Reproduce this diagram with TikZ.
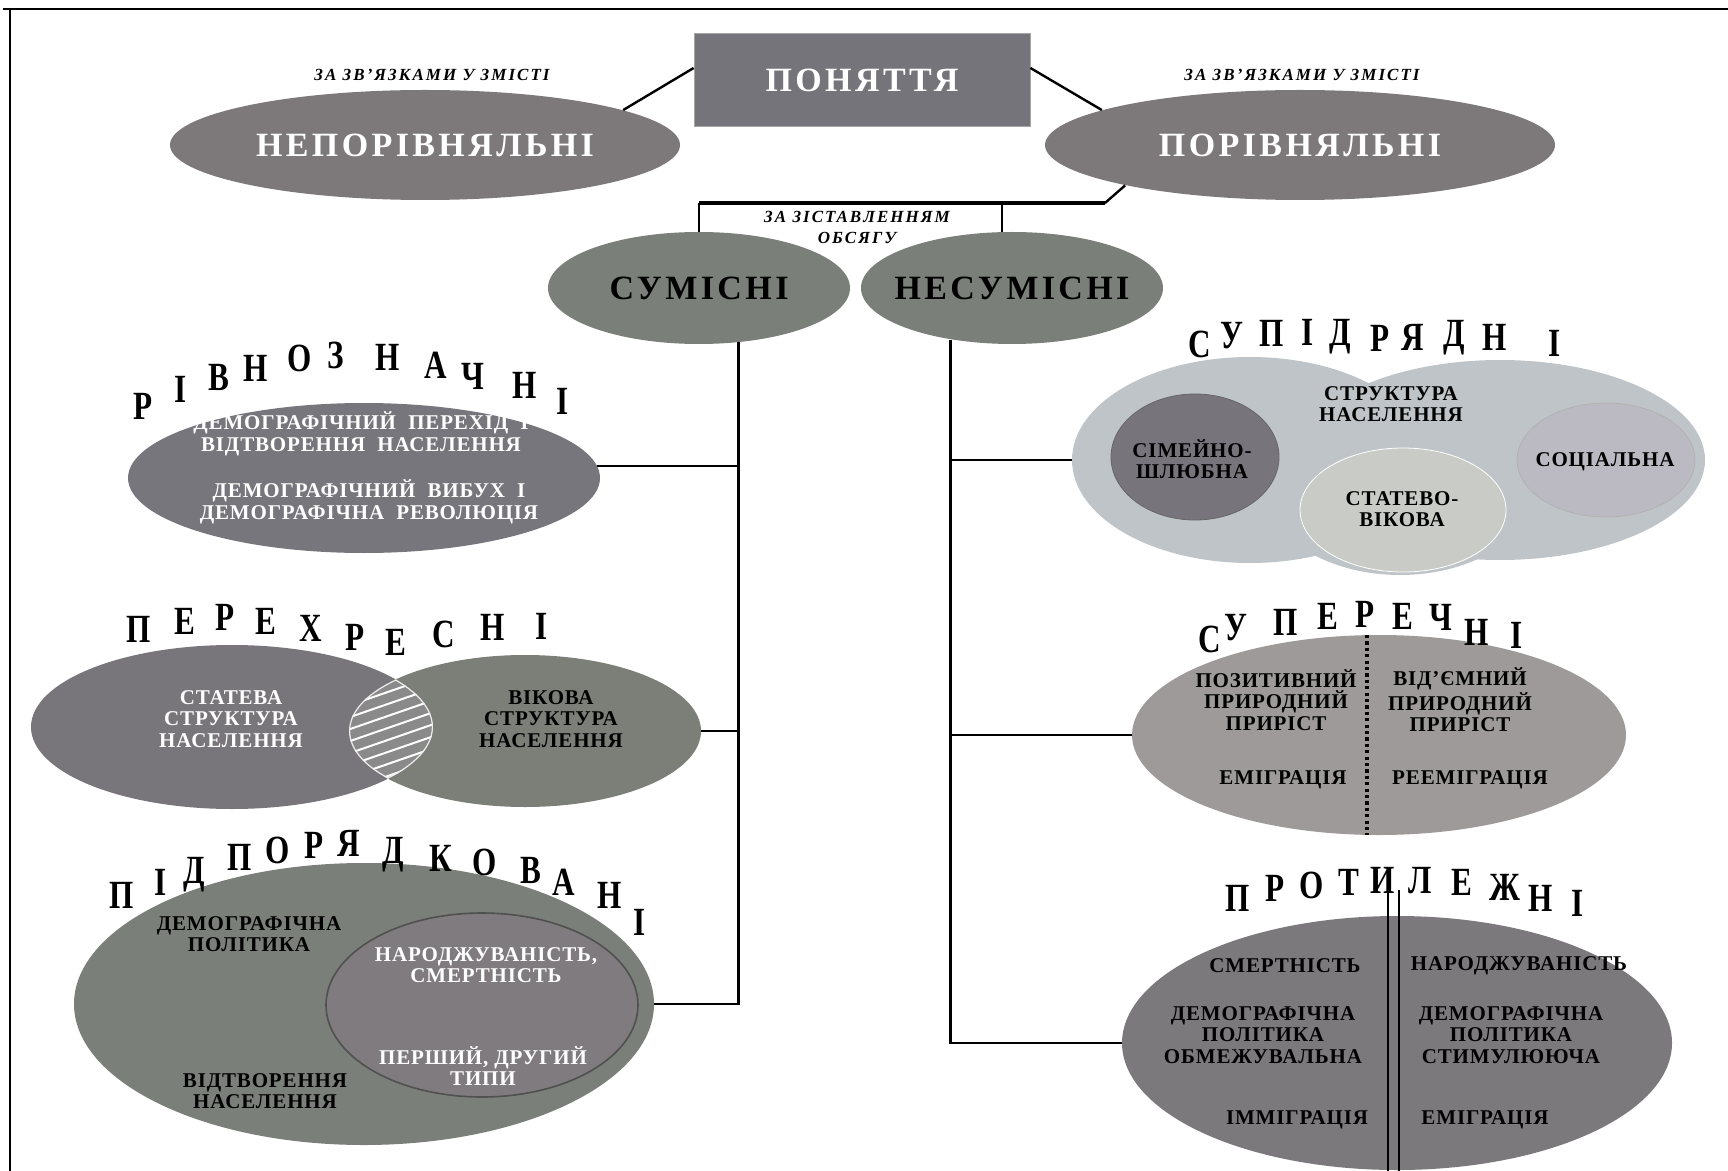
\documentclass[tikz,border=0pt]{standalone}
\usepackage{fontspec}
\setmainfont{Liberation Serif}
\newfontfamily\titlefont{Liberation Serif}[LetterSpace=10]
\newfontfamily\bodyfont{Liberation Serif}[LetterSpace=4]
\newfontfamily\notefont{Liberation Serif}[LetterSpace=12]
\usepackage{graphicx}
\usepackage{tikz}
\usetikzlibrary{shapes.geometric,calc}

\definecolor{boxgray}{HTML}{76747B}
\definecolor{topoval}{HTML}{7D7879}
\definecolor{greenoval}{HTML}{7A7F79}
\definecolor{blueoval}{HTML}{77767D}
\definecolor{venleft}{HTML}{78757B}
\definecolor{venright}{HTML}{7C7E78}
\definecolor{lensgray}{HTML}{8A8A8A}
\definecolor{inneroval}{HTML}{807B7E}
\definecolor{innerline}{HTML}{505050}
\definecolor{cloudgray}{HTML}{BEC4C7}
\definecolor{simgray}{HTML}{78747B}
\definecolor{statgray}{HTML}{C9CCC6}
\definecolor{sotsgray}{HTML}{BBBAC2}
\definecolor{contrgray}{HTML}{9E9A9A}
\definecolor{opgray}{HTML}{7C797D}

\newcommand{\archletter}[1]{\scalebox{0.78}[1]{#1}}

\begin{document}
\begin{tikzpicture}[x=0.5pt,y=0.5pt,
  oval/.style={ellipse,inner sep=0pt},
  title/.style={font=\titlefont\bfseries\fontsize{17}{20}\selectfont},
  body/.style={font=\bodyfont\bfseries\fontsize{10.5}{10.8}\selectfont,align=center,inner sep=0pt},
  note/.style={font=\notefont\bfseries\itshape\fontsize{8.5}{10.5}\selectfont,align=center,inner sep=0pt},
  letter/.style={font=\bfseries\fontsize{20}{20}\selectfont,inner sep=0pt,text height=13.2pt,text depth=0pt},
  link/.style={line width=1.2pt}]
\useasboundingbox (0,0) rectangle (1728,-1171);
% frame
\draw[line width=1pt] (3,-9) -- (1728,-9);
\draw[line width=1pt] (10,-9) -- (10,-1171);

% top level
\node[title,fill=boxgray,draw=gray!70,text=white,minimum width=168pt,minimum height=46.5pt] (ponyattya) at (862,-80) {ПОНЯТТЯ};
\node[oval,fill=topoval,minimum width=255pt,minimum height=55pt,label={[title,text=white]center:НЕПОРІВНЯЛЬНІ}] (neporiv) at (425,-145) {};
\node[oval,fill=topoval,minimum width=255pt,minimum height=55pt,label={[title,text=white]center:ПОРІВНЯЛЬНІ}] (poriv) at (1300,-145) {};
\node[note] (zvleft) at (432,-75) {ЗА ЗВ’ЯЗКАМИ У ЗМІСТІ};
\node[note] (zvright) at (1302,-75) {ЗА ЗВ’ЯЗКАМИ У ЗМІСТІ};
\draw[link] ([yshift=6pt]ponyattya.west) -- (neporiv.10);
\draw[link] ([yshift=6pt]ponyattya.east) -- (poriv.170);

% second level
\node[oval,fill=greenoval,minimum width=151pt,minimum height=56pt,label={[title]center:СУМІСНІ}] (sumisni) at (699,-288) {};
\node[oval,fill=greenoval,minimum width=151pt,minimum height=56pt,label={[title]center:НЕСУМІСНІ}] (nesumisni) at (1012,-288) {};
\node[note] (zist) at (857,-227) {ЗА ЗІСТАВЛЕННЯМ\\ОБСЯГУ};
\coordinate (split) at (1105,-203);
\draw[link] (poriv.193) -- (split);
\draw[line width=2pt] (split) -- (split -| sumisni.north);
\draw[link] (split -| sumisni.north) -- (sumisni.north);
\draw[link] (split -| nesumisni.100) -- (nesumisni.100);

% rivnoznachni
\node[oval,fill=blueoval,minimum width=236pt,minimum height=75pt] (rivnoz) at (364,-478) {};
\node[body,text=white] (rivtext1) at (361,-434) {ДЕМОГРАФІЧНИЙ\ \ ПЕРЕХІД\ \ І\\ВІДТВОРЕННЯ\ \ НАСЕЛЕННЯ};
\node[body,text=white] (rivtext2) at (369,-502) {ДЕМОГРАФІЧНИЙ\ \ ВИБУХ\ \ І\\ДЕМОГРАФІЧНА\ \ РЕВОЛЮЦІЯ};
\foreach \ch/\x/\y [count=\i] in {Р/143/406, І/181/389, В/219/377, Н/256/368, О/300/358, З/336/355,
  Н/388/357, А/436/365, Ч/473/376, Н/525/385, І/563/401}
  \node[letter] (rivl\i) at (\x,-\y) {\archletter{\ch}};

% perekhresni
\node[oval,fill=venleft,minimum width=201pt,minimum height=82pt] (stateva) at (232,-727) {};
\node[oval,fill=venright,minimum width=176pt,minimum height=76pt] (vikova) at (525,-731) {};
\begin{scope}
\clip (232,-727) ellipse (100.5pt and 41pt);
\clip (525,-731) ellipse (88pt and 38pt);
\fill[lensgray] (300,-600) rectangle (500,-860);
\foreach \k in {0,...,17}
  \draw[white,line width=1pt] (330,-640-\k*12) -- (460,-595-\k*12);
\draw[white!85!gray,line width=1.2pt] (525,-731) ellipse (88pt and 38pt);
\draw[white!85!gray,line width=1.2pt] (232,-727) ellipse (100.5pt and 41pt);
\end{scope}
\node[body,text=white] (statevat) at (231,-719) {СТАТЕВА\\СТРУКТУРА\\НАСЕЛЕННЯ};
\node[body] (vikovat) at (551,-719) {ВІКОВА\\СТРУКТУРА\\НАСЕЛЕННЯ};
\foreach \ch/\x/\y [count=\i] in {П/139/629, Е/185/621, Р/225/617, Е/266/621, Х/311/628,
  Р/355/637, Е/396/642, С/444/634, Н/493/627, І/542/626}
  \node[letter] (perl\i) at (\x,-\y) {\archletter{\ch}};

% pidporyadkovani
\node[oval,fill=greenoval,minimum width=290pt,minimum height=141pt] (pidpor) at (364,-1004) {};
\node[oval,fill=inneroval,draw=innerline,line width=0.8pt,minimum width=156pt,minimum height=92pt] (pidporin) at (482,-1005) {};
\node[body] (polit) at (249,-934) {ДЕМОГРАФІЧНА\\ПОЛІТИКА};
\node[body] (vidtv) at (265,-1091) {ВІДТВОРЕННЯ\\НАСЕЛЕННЯ};
\node[body,text=white] (narodzh) at (486,-965) {НАРОДЖУВАНІСТЬ,\\СМЕРТНІСТЬ};
\node[body,text=white] (typy) at (483,-1066) {ПЕРШИЙ, ДРУГИЙ\\ТИПИ};
\foreach \ch/\x/\y [count=\i] in {П/122/895, І/161/882, Д/194/870, П/240/857, О/278/850, Р/314/845,
  Я/349/843, Д/393/850, К/441/858, О/485/862, В/531/870, А/564/882, Н/610/895, І/640/922}
  \node[letter] (pidl\i) at (\x,-\y) {\archletter{\ch}};

% left trunk
\draw[link] (sumisni.-54) |- (pidpor.east);
\draw[link] (rivnoz.3) -- (rivnoz.3 -| sumisni.-54);
\draw[link] (vikova.east) -- (vikova.east -| sumisni.-54);

% supidryadni
\node[oval,fill=cloudgray,minimum width=178pt,minimum height=103pt] (supidr) at (1250,-460) {};
\node[oval,fill=cloudgray,minimum width=205pt,minimum height=100pt] (supidrR) at (1500,-460) {};
\node[oval,fill=cloudgray,minimum width=140pt,minimum height=95pt] (supidrB) at (1400,-480) {};
\node[oval,fill=simgray,draw=gray!80!black,minimum width=84pt,minimum height=63pt] (simeyno) at (1195,-457) {};
\node[oval,fill=statgray,draw=white,minimum width=103pt,minimum height=62pt] (statevo) at (1403,-510) {};
\node[oval,fill=sotsgray,draw=gray!60,minimum width=89pt,minimum height=57pt] (sotsial) at (1606,-460) {};
\node[body] (struktura) at (1391,-404) {СТРУКТУРА\\НАСЕЛЕННЯ};
\node[body] (simeynot) at (1192,-459) {СІМЕЙНО-\\ШЛЮБНА};
\node[body] (statevot) at (1402,-509) {СТАТЕВО-\\ВІКОВА};
\node[body] (sotsialt) at (1605,-462) {СОЦІАЛЬНА};
\foreach \ch/\x/\y [count=\i] in {С/1200/344, У/1232/335, П/1272/333, І/1308/332, Д/1340/332,
  Р/1380/338, Я/1413/337, Д/1454/333, Н/1495/337, І/1555/343}
  \node[letter] (supl\i) at (\x,-\y) {\archletter{\ch}};

% superechni
\node[oval,fill=contrgray,minimum width=247pt,minimum height=100pt] (supere) at (1379,-735) {};
\draw[line width=1.6pt,dash pattern=on 1.6pt off 1.6pt] (1367,-635) -- (1367,-835);
\node[body] (pozyt) at (1276,-700) {ПОЗИТИВНИЙ\\ПРИРОДНИЙ\\ПРИРІСТ};
\node[body] (vidyem) at (1460,-700) {ВІД’ЄМНИЙ\\ПРИРОДНИЙ\\ПРИРІСТ};
\node[body] (emigr) at (1283,-780) {ЕМІГРАЦІЯ};
\node[body] (reemigr) at (1470,-780) {РЕЕМІГРАЦІЯ};
\foreach \ch/\x/\y [count=\i] in {С/1210/639, У/1236/627, П/1286/622, Е/1328/616, Р/1365/614,
  Е/1403/616, Ч/1441/617, Н/1477/632, І/1517/635}
  \node[letter] (supel\i) at (\x,-\y) {\archletter{\ch}};

% protylezhni
\node[oval,fill=opgray,minimum width=275pt,minimum height=127pt] (protyl) at (1397,-1043) {};
\draw[line width=0.8pt] (1388,-890) -- (1388,-1171);
\draw[line width=0.8pt] (1399,-890) -- (1399,-1171);
\node[body] (smert) at (1285,-966) {СМЕРТНІСТЬ};
\node[body] (narod) at (1519,-966) {НАРОДЖУВАНІСТЬ};
\node[body] (obmezh) at (1263,-1035) {ДЕМОГРАФІЧНА\\ПОЛІТИКА\\ОБМЕЖУВАЛЬНА};
\node[body] (stymul) at (1511,-1035) {ДЕМОГРАФІЧНА\\ПОЛІТИКА\\СТИМУЛЮЮЧА};
\node[body] (immigr) at (1297,-1120) {ІММІГРАЦІЯ};
\node[body] (emigr2) at (1485,-1120) {ЕМІГРАЦІЯ};
\foreach \ch/\x/\y [count=\i] in {П/1238/898, Р/1275/888, О/1312/885, Т/1349/882, И/1383/880,
  Л/1420/880, Е/1462/882, Ж/1505/887, Н/1541/898, І/1578/903}
  \node[letter] (prol\i) at (\x,-\y) {\archletter{\ch}};

% right trunk
\draw[link] (nesumisni.-140) |- (protyl.west);
\draw[link] (supidr.west) -- (supidr.west -| nesumisni.-140);
\draw[link] (supere.west) -- (supere.west -| nesumisni.-140);
\end{tikzpicture}
\end{document}
